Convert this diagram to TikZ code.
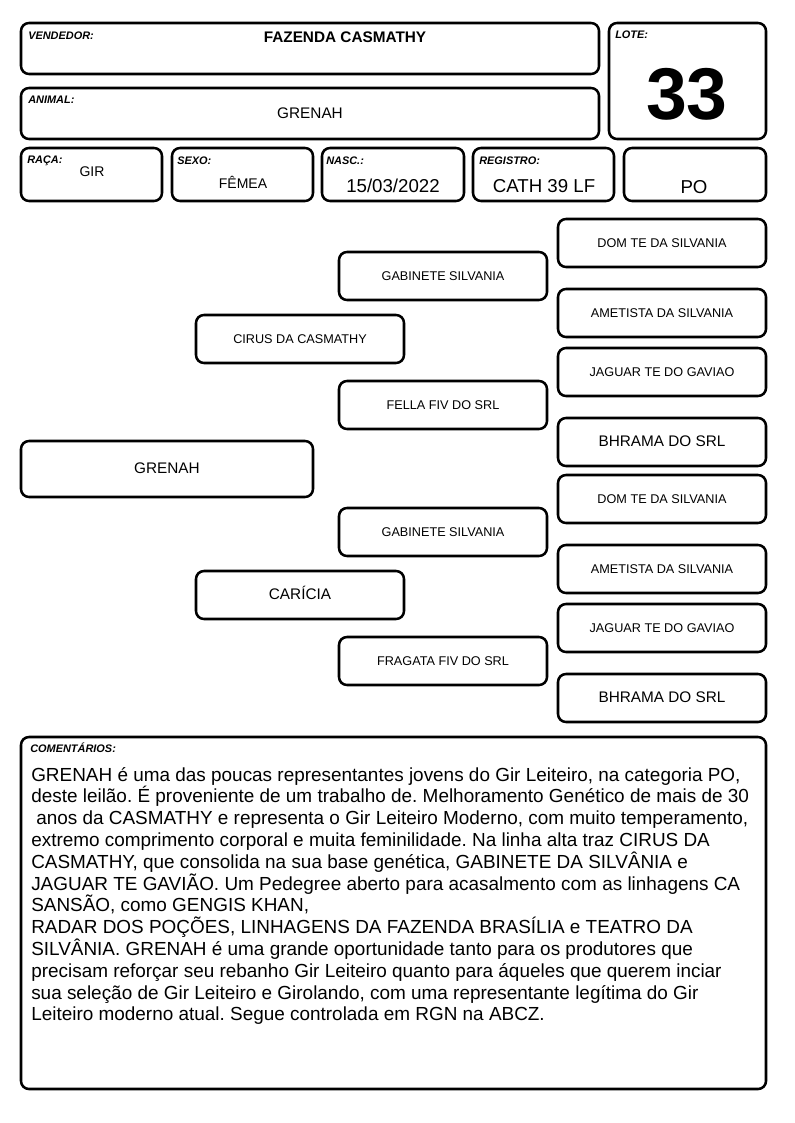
\documentclass[tikz,border=0pt]{standalone}
\usepackage{fontspec}
\setmainfont{Liberation Sans}
\frenchspacing
\newcommand\pbox[7]{\node[box,font=#7,minimum width={(#4-#2)*0.75pt},minimum height={(#5-#3)*0.75pt}] (#1) at ({(#2+#4)/2},{(#3+#5)/2}) {#6};}
\begin{document}
\begin{tikzpicture}[x=0.75pt,y=-0.75pt,
  box/.style={draw,line width=1.9pt,rounded corners=6pt,inner sep=0pt,text height=0.72em,text depth=0pt,align=center},
  lab/.style={anchor=base west,inner sep=0pt,font=\fontsize{8.2}{9.6}\selectfont\bfseries\itshape},
  val/.style={anchor=base,inner sep=0pt},
  com/.style={anchor=base west,inner sep=0pt,font=\fontsize{14.2}{16.35}\selectfont}]
\useasboundingbox (0,0) rectangle (794,1123);
% header boxes
\pbox{vend}{21}{23}{599}{74}{}{\small}
\pbox{anim}{21}{88}{599}{139}{}{\small}
\pbox{lote}{609}{23}{766}{139}{}{\small}
\pbox{raca}{21}{148}{162}{201}{}{\small}
\pbox{sexo}{172}{148}{313}{201}{}{\small}
\pbox{nasc}{322}{148}{464}{201}{}{\small}
\pbox{reg}{473}{148}{614}{201}{}{\small}
\pbox{po}{624}{148}{766}{201}{}{\small}
\node[lab] (lvend) at (28,40) {VENDEDOR:};
\node[val,font=\fontsize{11.5}{13}\selectfont\bfseries] (tvend) at (345,43) {FAZENDA CASMATHY};
\node[lab] (lanim) at (28,104) {ANIMAL:};
\node[val,font=\fontsize{11.5}{13}\selectfont] (tanim) at (310,119) {GRENAH};
\node[lab] (llote) at (615,39) {LOTE:};
\node[val,font=\fontsize{55}{60}\selectfont\bfseries] (tlote) at (687,120) {33};
\node[lab] (lraca) at (27,164) {RAÇA:};
\node[val,font=\fontsize{10.5}{12}\selectfont] (traca) at (92,177) {GIR};
\node[lab] (lsexo) at (177,165) {SEXO:};
\node[val,font=\fontsize{10.5}{12}\selectfont] (tsexo) at (243,189) {FÊMEA};
\node[lab] (lnasc) at (326,165) {NASC.:};
\node[val,font=\fontsize{14}{16}\selectfont] (tnasc) at (393,193) {15/03/2022};
\node[lab] (lreg) at (479,165) {REGISTRO:};
\node[val,font=\fontsize{14}{16}\selectfont] (treg) at (544,193) {CATH 39 LF};
\node[val,font=\fontsize{14}{16}\selectfont] (tpo) at (694,194) {PO};
% pedigree
\pbox{animal}{21}{441}{313}{497}{GRENAH}{\fontsize{11.5}{13}\selectfont}
\pbox{pai}{196}{315}{404}{363}{CIRUS DA CASMATHY}{\fontsize{9.5}{11}\selectfont}
\pbox{mae}{196}{571}{404}{619}{CARÍCIA}{\fontsize{11.5}{13}\selectfont}
\pbox{pp}{339}{252}{547}{300}{GABINETE SILVANIA}{\fontsize{9.5}{11}\selectfont}
\pbox{pm}{339}{381}{547}{429}{FELLA FIV DO SRL}{\fontsize{9.5}{11}\selectfont}
\pbox{mp}{339}{508}{547}{556}{GABINETE SILVANIA}{\fontsize{9.5}{11}\selectfont}
\pbox{mm}{339}{637}{547}{685}{FRAGATA FIV DO SRL}{\fontsize{9.5}{11}\selectfont}
\pbox{ppp}{558}{219}{766}{267}{DOM TE DA SILVANIA}{\fontsize{9.5}{11}\selectfont}
\pbox{ppm}{558}{289}{766}{337}{AMETISTA DA SILVANIA}{\fontsize{9.5}{11}\selectfont}
\pbox{pmp}{558}{348}{766}{396}{JAGUAR TE DO GAVIAO}{\fontsize{9.5}{11}\selectfont}
\pbox{pmm}{558}{418}{766}{466}{BHRAMA DO SRL}{\fontsize{11.5}{13}\selectfont}
\pbox{mpp}{558}{475}{766}{523}{DOM TE DA SILVANIA}{\fontsize{9.5}{11}\selectfont}
\pbox{mpm}{558}{545}{766}{593}{AMETISTA DA SILVANIA}{\fontsize{9.5}{11}\selectfont}
\pbox{mmp}{558}{604}{766}{652}{JAGUAR TE DO GAVIAO}{\fontsize{9.5}{11}\selectfont}
\pbox{mmm}{558}{674}{766}{722}{BHRAMA DO SRL}{\fontsize{11.5}{13}\selectfont}
% comments
\pbox{coment}{21}{737}{766}{1089}{}{\small}
\node[lab] (lcom) at (30,752) {COMENTÁRIOS:};
\node[com] (c1) at (31,781) {GRENAH é uma das poucas representantes jovens do Gir Leiteiro, na categoria PO,};
\node[com] (c2) at (31,802.8) {deste leilão. É proveniente de um trabalho de. Melhoramento Genético de mais de 30};
\node[com] (c3) at (36,824.6) {anos da CASMATHY e representa o Gir Leiteiro Moderno, com muito temperamento,};
\node[com] (c4) at (31,846.4) {extremo comprimento corporal e muita feminilidade. Na linha alta traz CIRUS DA};
\node[com] (c5) at (31,868.2) {CASMATHY, que consolida na sua base genética, GABINETE DA SILVÂNIA e};
\node[com] (c6) at (31,890) {JAGUAR TE GAVIÃO. Um Pedegree aberto para acasalmento com as linhagens CA};
\node[com] (c7) at (31,911.8) {SANSÃO, como GENGIS KHAN,};
\node[com] (c8) at (31,933.6) {RADAR DOS POÇÕES, LINHAGENS DA FAZENDA BRASÍLIA e TEATRO DA};
\node[com] (c9) at (31,955.4) {SILVÂNIA. GRENAH é uma grande oportunidade tanto para os produtores que};
\node[com] (c10) at (31,977.2) {precisam reforçar seu rebanho Gir Leiteiro quanto para áqueles que querem inciar};
\node[com] (c11) at (31,999) {sua seleção de Gir Leiteiro e Girolando, com uma representante legítima do Gir};
\node[com] (c12) at (31,1020.8) {Leiteiro moderno atual. Segue controlada em RGN na ABCZ.};
\end{tikzpicture}
\end{document}
